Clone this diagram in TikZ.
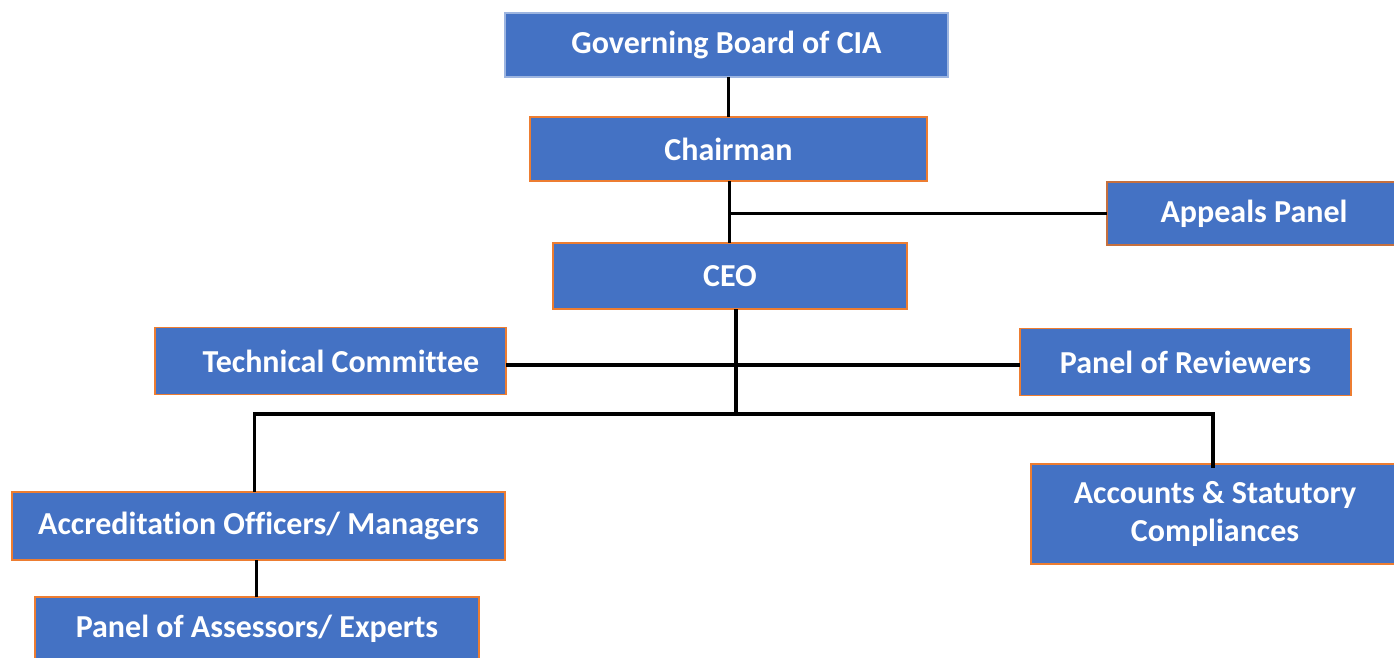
\documentclass[tikz,border=0pt]{standalone}
\usepackage{fontspec}
\setmainfont{Carlito}[Ligatures=NoCommon]
\begin{document}
\begin{tikzpicture}[x=1pt,y=-1pt,
  unit/.style={draw=boxline, fill=boxblue, line width=1.5pt, text=white,
    font=\fontsize{32}{38}\selectfont\bfseries, inner sep=0pt, outer sep=0pt, align=center},
  wire/.style={line width=3.5pt, black}]
\definecolor{boxblue}{HTML}{4472C4}
\definecolor{boxline}{HTML}{ED7D31}
\definecolor{topline}{HTML}{9DB5E0}
\definecolor{darkline}{HTML}{C5703F}
\useasboundingbox (0,0) rectangle (1394,657);

\node[unit, draw=topline, minimum width=443pt, minimum height=64pt] (gov) at (726.5,45) {Governing Board of CIA};
\node[unit, minimum width=397pt, minimum height=64pt] (chair) at (728.5,149) {Chairman};
\node[unit, draw=darkline, minimum width=294pt, minimum height=63pt] (appeals) at (1254,213.5) {Appeals Panel};
\node[unit, minimum width=354pt, minimum height=66pt] (ceo) at (730,276) {CEO};
\node[unit, minimum width=351pt, minimum height=67pt] (tech) at (330.5,361) {\hspace{21pt}Technical Committee};
\node[unit, minimum width=331pt, minimum height=67pt] (rev) at (1185.5,362) {Panel of Reviewers};
\node[unit, minimum width=493pt, minimum height=68pt] (acc) at (258.5,526) {Accreditation Officers/ Managers};
\node[unit, minimum width=368pt, minimum height=100pt] (accounts) at (1215,514) {Accounts \& Statutory\\Compliances};
\node[unit, minimum width=444pt, minimum height=64pt] (assess) at (257,629) {Panel of Assessors/ Experts};

\coordinate (hub) at (736,414);

\draw[wire] (chair.north |- gov.south) -- (chair.north);
\draw[wire] ([xshift=1pt]chair.south) -- ([xshift=1pt]chair.south |- ceo.north);
\draw[wire] ([xshift=1pt]chair.south |- appeals.west) -- (appeals.west);
\draw[wire] (ceo.south -| hub) -- (hub);
\draw[wire] (tech.east |- 0,365) -- (rev.west |- 0,365);
\draw[wire] ([xshift=-4pt]acc.north) |- (hub) -| ([xshift=-2pt,yshift=-4pt]accounts.north);
\draw[wire] ([xshift=-2pt]acc.south) -- ([xshift=-2pt]acc.south |- assess.north);
\end{tikzpicture}
\end{document}
